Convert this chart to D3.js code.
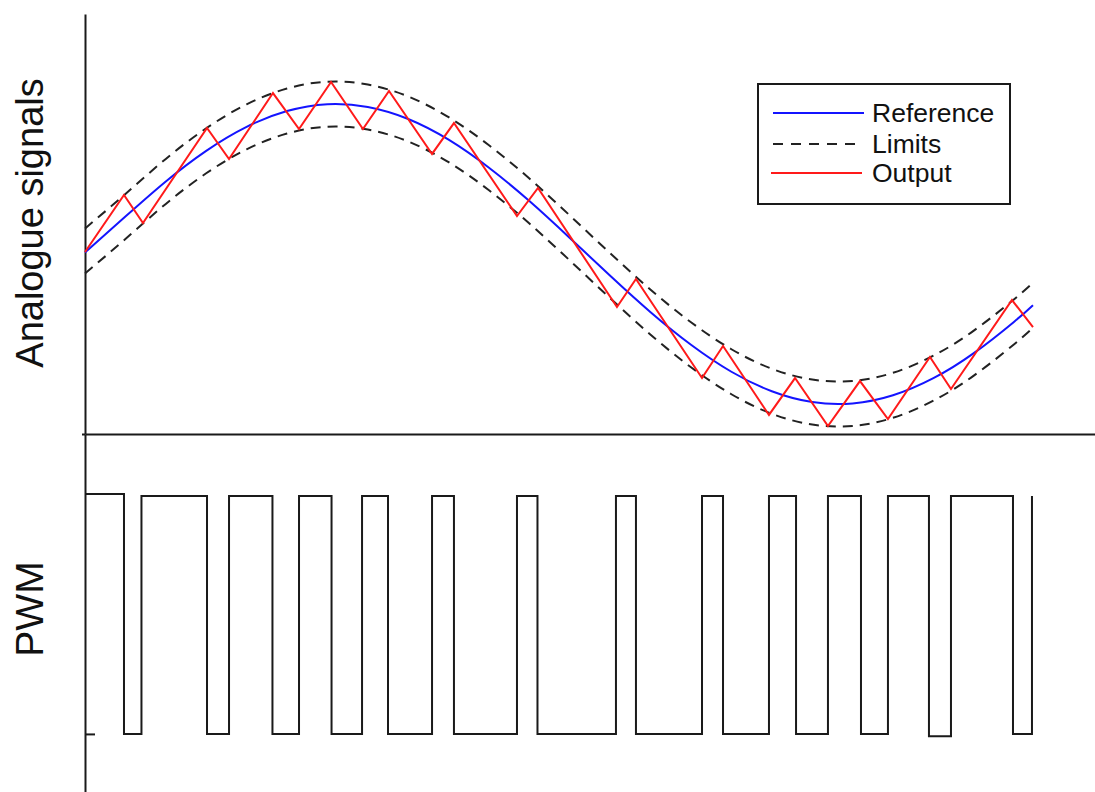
<!DOCTYPE html>
<html>
<head>
<meta charset="utf-8">
<script src="https://cdn.jsdelivr.net/npm/d3@7"></script>
<style>
  html, body { margin: 0; padding: 0; background: #ffffff; }
  svg { display: block; }
  text { font-family: "Liberation Sans", Arial, Helvetica, sans-serif; fill: #111; }
</style>
</head>
<body>
<svg id="chart" width="1095" height="792"></svg>
<script>
// ---------------- DATA ----------------
// time axis in arbitrary units (0 = left axis)
const refTimes = [0, 0.04, 0.08, 0.12, 0.16, 0.20, 0.24, 0.28, 0.32, 0.36, 0.40, 0.44, 0.48,
                  0.52, 0.56, 0.60, 0.64, 0.68, 0.72, 0.76, 0.80, 0.84, 0.88, 0.92, 0.9386];
const refValues = [0.01, 0.250, 0.484, 0.688, 0.848, 0.953, 0.999, 0.980, 0.900, 0.762, 0.575, 0.353, 0.107,
                   -0.145, -0.388, -0.605, -0.785, -0.915, -0.987, -0.996, -0.942, -0.828, -0.661, -0.451, -0.341];
const upperLimit = [0.17, 0.40, 0.634, 0.838, 0.998, 1.103, 1.149, 1.130, 1.050, 0.912, 0.725, 0.503, 0.257,
                    0.005, -0.238, -0.455, -0.635, -0.765, -0.837, -0.846, -0.792, -0.678, -0.511, -0.301, -0.191];
const lowerLimit = [-0.13, 0.10, 0.334, 0.538, 0.698, 0.803, 0.849, 0.830, 0.750, 0.612, 0.425, 0.203, -0.043,
                    -0.295, -0.538, -0.755, -0.935, -1.065, -1.137, -1.146, -1.092, -0.978, -0.811, -0.601, -0.491];

// Output (red zig-zag) vertices
const outputTimes = [0, 0.0386, 0.0574, 0.1208, 0.1426, 0.1861, 0.2119, 0.2436, 0.2752, 0.3010, 0.3436,
                     0.3653, 0.4277, 0.4485, 0.5267, 0.5455, 0.6109, 0.6317, 0.6772, 0.7030, 0.7356,
                     0.7673, 0.7950, 0.8366, 0.8574, 0.9178, 0.9386];
const outputValues = [0.013, 0.393, 0.207, 0.840, 0.633, 1.073, 0.833, 1.147, 0.833, 1.087, 0.667,
                      0.873, 0.253, 0.440, -0.353, -0.167, -0.827, -0.613, -1.073, -0.827, -1.147,
                      -0.847, -1.100, -0.687, -0.900, -0.307, -0.487];

// PWM switching instants and the level held from each instant on
const pwmTimes = [0, 0.0386, 0.0559, 0.1208, 0.1426, 0.1856, 0.2119, 0.2441, 0.2743, 0.3000, 0.3436,
                  0.3653, 0.4277, 0.4480, 0.5257, 0.5455, 0.6109, 0.6317, 0.6772, 0.7040, 0.7356,
                  0.7683, 0.7950, 0.8356, 0.8574, 0.9188, 0.9376];
const pwmLevels = [1.008, 0, 1, 0, 1, 0, 1, 0, 1, 0, 1,
                   0, 1, 0, 1, 0, 1, 0, 1, 0, 1,
                   0, 1, -0.01, 1, 0, 1];

const legendLabels = ["Reference", "Limits", "Output"];
const axisLabels = ["Analogue signals", "PWM"];

// ---------------- SCALES ----------------
const svg = d3.select("#chart");
svg.append("rect").attr("width", 1095).attr("height", 792).attr("fill", "#fff");

const x = d3.scaleLinear().domain([0, 1]).range([85, 1095]);
const yTop = d3.scaleLinear().domain([-1.2, 1.6]).range([434, 14]);
const yPwm = d3.scaleLinear().domain([-0.244, 1.26]).range([792, 434]);

const axisColor = "#1a1a1a";

// ---------------- AXES ----------------
// top panel y axis
const gTopY = svg.append("g").attr("transform", `translate(${x(0)},0)`)
  .call(d3.axisLeft(yTop).tickValues([-1.2]).tickSize(3).tickSizeOuter(0).tickFormat(""));
// bottom panel y axis
const gPwmY = svg.append("g").attr("transform", `translate(${x(0)},0)`)
  .call(d3.axisLeft(yPwm).tickValues([0]).tickSize(-10).tickSizeOuter(0).tickFormat(""));
// top panel x axis (separator line)
const gTopX = svg.append("g").attr("transform", `translate(0,${yTop(-1.2)})`)
  .call(d3.axisBottom(x).tickValues([]).tickSizeOuter(0));

[gTopY, gPwmY, gTopX].forEach(g => {
  g.selectAll(".domain").attr("stroke", axisColor).attr("stroke-width", 2);
  g.selectAll(".tick line").attr("stroke", axisColor).attr("stroke-width", 2);
});

// ---------------- TOP PANEL LINES ----------------
const smooth = d3.line().x((d, i) => x(refTimes[i])).y(d => yTop(d)).curve(d3.curveNatural);

svg.append("path").datum(upperLimit).attr("d", smooth)
  .attr("fill", "none").attr("stroke", "#222").attr("stroke-width", 2)
  .attr("stroke-dasharray", "10,7");
svg.append("path").datum(lowerLimit).attr("d", smooth)
  .attr("fill", "none").attr("stroke", "#222").attr("stroke-width", 2)
  .attr("stroke-dasharray", "10,7");
svg.append("path").datum(refValues).attr("d", smooth)
  .attr("fill", "none").attr("stroke", "#1414ff").attr("stroke-width", 2);

const zig = d3.line().x((d, i) => x(outputTimes[i])).y(d => yTop(d));
svg.append("path").datum(outputValues).attr("d", zig)
  .attr("fill", "none").attr("stroke", "#ff1a1a").attr("stroke-width", 2)
  .attr("stroke-linejoin", "miter");

// ---------------- PWM ----------------
const step = d3.line().x((d, i) => x(pwmTimes[i])).y(d => yPwm(d)).curve(d3.curveStepAfter);
svg.append("path").datum(pwmLevels).attr("d", step)
  .attr("fill", "none").attr("stroke", "#1a1a1a").attr("stroke-width", 2);

// ---------------- AXIS LABELS ----------------
svg.append("text")
  .attr("transform", `translate(43,${(75 + 371) / 2}) rotate(-90)`)
  .attr("text-anchor", "middle")
  .style("font-size", "38px")
  .text(axisLabels[0]);
svg.append("text")
  .attr("transform", `translate(43,${(563 + 655) / 2}) rotate(-90)`)
  .attr("text-anchor", "middle")
  .style("font-size", "39px")
  .text(axisLabels[1]);

// ---------------- LEGEND ----------------
const lg = svg.append("g");
lg.append("rect").attr("x", 758).attr("y", 84).attr("width", 252).attr("height", 120)
  .attr("fill", "#fff").attr("stroke", "#1a1a1a").attr("stroke-width", 2);
const legendStyles = [
  { stroke: "#1414ff", dash: null, x1: 773, x2: 864 },
  { stroke: "#222", dash: "10,8", x1: 773, x2: 855 },
  { stroke: "#ff1a1a", dash: null, x1: 771, x2: 862 }
];
const legendRows = [113, 144, 173];
legendLabels.forEach((lab, i) => {
  const s = legendStyles[i];
  lg.append("line").attr("x1", s.x1).attr("x2", s.x2)
    .attr("y1", legendRows[i]).attr("y2", legendRows[i])
    .attr("stroke", s.stroke).attr("stroke-width", 2)
    .attr("stroke-dasharray", s.dash);
  lg.append("text").attr("x", 872).attr("y", legendRows[i] + 9)
    .style("font-size", "26.5px").text(lab);
});
</script>
</body>
</html>
